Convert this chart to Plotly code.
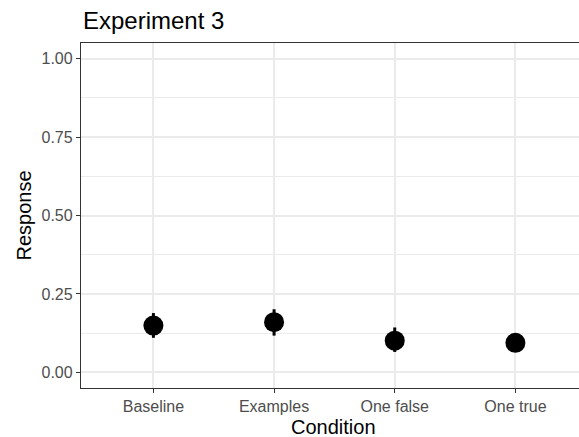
import plotly.graph_objects as go

conditions = ["Baseline", "Examples", "One false", "One true"]
response = [0.149, 0.160, 0.101, 0.094]
ci_low = [0.110, 0.117, 0.065, 0.070]
ci_high = [0.189, 0.201, 0.143, 0.115]
y_ticks = [0.0, 0.25, 0.5, 0.75, 1.0]
y_ticklabels = ["0.00", "0.25", "0.50", "0.75", "1.00"]
y_minor = [0.125, 0.375, 0.625, 0.875]

FONT = "Liberation Sans, Arial, sans-serif"
W, H = 579, 437
ML, MR, MT, MB = 81, 0, 43, 49
PW, PH = W - ML - MR, H - MT - MB

err_plus = [h - r for h, r in zip(ci_high, response)]
err_minus = [r - l for r, l in zip(response, ci_low)]

fig = go.Figure()
fig.add_trace(go.Scatter(
    x=list(range(len(conditions))), y=response, mode="markers",
    marker=dict(color="black", size=20),
    error_y=dict(type="data", array=err_plus, arrayminus=err_minus,
                 color="black", thickness=3, width=0),
    showlegend=False,
))

fig.update_layout(
    width=W, height=H,
    margin=dict(l=ML, r=MR, t=MT, b=MB, autoexpand=False),
    paper_bgcolor="white", plot_bgcolor="white",
    font=dict(family=FONT, color="black"),
    title=dict(text="Experiment 3", font=dict(size=24, color="black"),
               xref="container", yref="container",
               x=83 / W, xanchor="left", y=1 - 21 / H, yanchor="middle"),
    xaxis=dict(
        range=[-0.6, 3.527], tickmode="array",
        tickvals=list(range(len(conditions))), ticktext=conditions,
        showgrid=True, gridcolor="#EBEBEB", gridwidth=1.5,
        showline=True, linecolor="#333333", linewidth=1.3, mirror=True,
        ticks="outside", ticklen=4, tickcolor="#333333", tickwidth=1.3,
        tickfont=dict(size=16, color="#4D4D4D"),
        automargin=False, zeroline=False,
    ),
    yaxis=dict(
        range=[-0.05, 1.05], tickmode="array",
        tickvals=y_ticks, ticktext=y_ticklabels,
        showgrid=True, gridcolor="#EBEBEB", gridwidth=1.5,
        minor=dict(tickvals=y_minor, showgrid=True, gridcolor="#EBEBEB", gridwidth=0.8, ticks=""),
        showline=True, linecolor="#333333", linewidth=1.3, mirror=False,
        ticks="outside", ticklen=4, tickcolor="#333333", tickwidth=1.3,
        tickfont=dict(size=16, color="#4D4D4D"),
        automargin=False, zeroline=False,
    ),
    annotations=[
        dict(text="Condition", xref="paper", yref="paper", x=(333 - ML) / PW,
             y=-(427 - (H - MB)) / PH, xanchor="center", yanchor="middle",
             showarrow=False, font=dict(size=20, color="black")),
        dict(text="Response", xref="paper", yref="paper", x=-(ML - 23) / PW,
             y=0.5, xanchor="center", yanchor="middle", textangle=-90,
             showarrow=False, font=dict(size=20, color="black")),
    ],
)

fig.write_html("out.html", config={"displayModeBar": False},
               post_script="document.body.style.margin='0';document.body.style.overflow='hidden';")
